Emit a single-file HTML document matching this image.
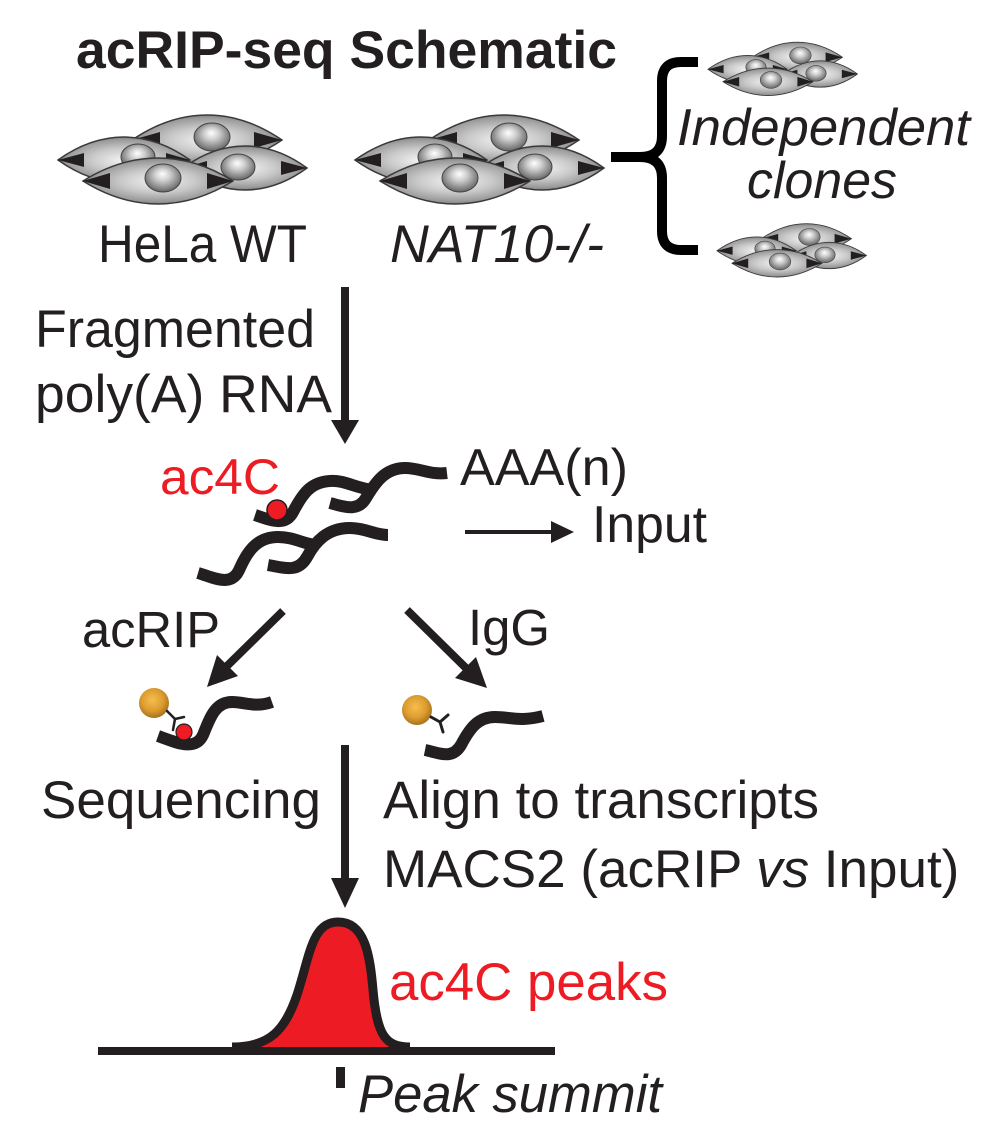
<!DOCTYPE html>
<html>
<head>
<meta charset="utf-8">
<style>
  html, body { margin: 0; padding: 0; background: #ffffff; }
  svg { display: block; }
  text { font-family: "Liberation Sans", Arial, sans-serif; fill: #231f20; }
</style>
</head>
<body>
<svg width="997" height="1129" viewBox="0 0 997 1129" xmlns="http://www.w3.org/2000/svg">
  <defs>
    <radialGradient id="cellG" cx="50%" cy="50%" r="55%">
      <stop offset="0" stop-color="#f4f4f4"/>
      <stop offset="0.45" stop-color="#c9c9c9"/>
      <stop offset="0.8" stop-color="#9a9a9a"/>
      <stop offset="1" stop-color="#6e6e6e"/>
    </radialGradient>
    <radialGradient id="nucG" cx="50%" cy="45%" r="60%" fx="48%" fy="35%">
      <stop offset="0" stop-color="#ffffff"/>
      <stop offset="0.35" stop-color="#cfcfcf"/>
      <stop offset="0.8" stop-color="#7d7d7d"/>
      <stop offset="1" stop-color="#555555"/>
    </radialGradient>
    <radialGradient id="beadG" cx="45%" cy="40%" r="60%">
      <stop offset="0" stop-color="#f8bd4e"/>
      <stop offset="0.6" stop-color="#dc9c30"/>
      <stop offset="1" stop-color="#a6731f"/>
    </radialGradient>

    <g id="cluster">
      <!-- Cell A -->
      <path d="M132 140 C181 106.7 233 106.7 282 140 C233 173.3 181 173.3 132 140 Z" fill="url(#cellG)" stroke="#3a3a3a" stroke-width="1.5"/>
      <polygon points="132,140 160,132 160,148" fill="#231f20"/>
      <polygon points="282,140 254,132 254,148" fill="#231f20"/>
      <ellipse cx="212" cy="137" rx="18" ry="14" fill="url(#nucG)" stroke="#444" stroke-width="1"/>
      <!-- Cell B -->
      <path d="M58 160 C101 129.4 147 129.4 190 160 C147 190.6 101 190.6 58 160 Z" fill="url(#cellG)" stroke="#3a3a3a" stroke-width="1.5"/>
      <polygon points="58,160 84,153 84,167" fill="#231f20"/>
      <polygon points="190,160 166,153 166,167" fill="#231f20"/>
      <ellipse cx="138" cy="157" rx="17" ry="13" fill="url(#nucG)" stroke="#444" stroke-width="1"/>
      <!-- Cell C -->
      <path d="M183 168 C223 138.7 267 138.7 307 168 C267 197.3 223 197.3 183 168 Z" fill="url(#cellG)" stroke="#3a3a3a" stroke-width="1.5"/>
      <polygon points="183,168 207,161 207,175" fill="#231f20"/>
      <polygon points="307,168 281,161 281,175" fill="#231f20"/>
      <ellipse cx="238" cy="167" rx="17" ry="13" fill="url(#nucG)" stroke="#444" stroke-width="1"/>
      <!-- Cell D -->
      <path d="M83 181 C132 150.4 184 150.4 233 181 C184 211.6 132 211.6 83 181 Z" fill="url(#cellG)" stroke="#3a3a3a" stroke-width="1.5"/>
      <polygon points="83,181 110,173 110,189" fill="#231f20"/>
      <polygon points="233,181 207,173 207,189" fill="#231f20"/>
      <ellipse cx="163" cy="178" rx="18" ry="14" fill="url(#nucG)" stroke="#444" stroke-width="1"/>
    </g>
  </defs>

  <!-- Title -->
  <text x="76" y="68" font-size="53" font-weight="bold" textLength="541" lengthAdjust="spacingAndGlyphs">acRIP-seq Schematic</text>

  <!-- Cell clusters -->
  <use href="#cluster"/>
  <use href="#cluster" transform="translate(297,0)"/>
  <use href="#cluster" transform="translate(673.2,-26.8) scale(0.6)"/>
  <use href="#cluster" transform="translate(682.2,154.7) scale(0.6)"/>

  <!-- Brace -->
  <path d="M698 62 L681 62 Q662 62 662 81 L662 136 Q662 157 640 157 L611 157 M640 157 Q662 157 662 178 L662 231 Q662 250 681 250 L698 250"
        fill="none" stroke="#000" stroke-width="10" stroke-linejoin="round"/>

  <text x="677" y="145" font-size="52" font-style="italic" textLength="293" lengthAdjust="spacingAndGlyphs">Independent</text>
  <text x="747" y="198" font-size="52" font-style="italic" textLength="150" lengthAdjust="spacingAndGlyphs">clones</text>

  <text x="98" y="262" font-size="53" textLength="209" lengthAdjust="spacingAndGlyphs">HeLa WT</text>
  <text x="390" y="262" font-size="53" font-style="italic" textLength="214" lengthAdjust="spacingAndGlyphs">NAT10-/-</text>

  <!-- Down arrow 1 -->
  <rect x="341" y="287" width="8" height="135" fill="#231f20"/>
  <polygon points="331,420 359,420 345,444" fill="#231f20"/>

  <text x="35" y="347" font-size="53" textLength="280" lengthAdjust="spacingAndGlyphs">Fragmented</text>
  <text x="35" y="412" font-size="53" textLength="297" lengthAdjust="spacingAndGlyphs">poly(A) RNA</text>

  <!-- RNA strands -->
  <g fill="none" stroke="#231f20" stroke-width="12" stroke-linecap="butt" stroke-linejoin="round">
    <path d="M255 515 C270 520 285 527 293 512 C302 495 310 482 330 481 C345 480 355 488 373 490"/>
    <path d="M330 503 C345 507 358 512 366 498 C375 483 385 468 405 468 C420 468 430 475 447 473"/>
    <path d="M198 573 C215 578 232 588 240 568 C248 550 258 537 278 537 C295 537 305 545 318 545"/>
    <path d="M268 565 C285 568 298 573 307 557 C315 542 327 528 350 528 C365 528 375 535 388 535"/>
  </g>
  <circle cx="277" cy="510" r="10" fill="#ed1c24" stroke="#231f20" stroke-width="1.5"/>
  <text x="160" y="494" font-size="50" fill="#ed1c24" style="fill:#ed1c24" textLength="120" lengthAdjust="spacingAndGlyphs">ac4C</text>

  <text x="460" y="485" font-size="52" textLength="168" lengthAdjust="spacingAndGlyphs">AAA(n)</text>
  <!-- Input arrow -->
  <rect x="465" y="530" width="88" height="4" fill="#231f20"/>
  <polygon points="551,521 574,532 551,543" fill="#231f20"/>
  <text x="592" y="542" font-size="52" textLength="115" lengthAdjust="spacingAndGlyphs">Input</text>

  <!-- acRIP / IgG arrows -->
  <text x="82" y="647" font-size="51" textLength="138" lengthAdjust="spacingAndGlyphs">acRIP</text>
  <line x1="283" y1="611" x2="226" y2="667" stroke="#231f20" stroke-width="8"/>
  <polygon points="207,687 217,655 238,676" fill="#231f20"/>

  <text x="468" y="645" font-size="51" textLength="82" lengthAdjust="spacingAndGlyphs">IgG</text>
  <line x1="407" y1="610" x2="469" y2="671" stroke="#231f20" stroke-width="8"/>
  <polygon points="487,688 455,678 476,657" fill="#231f20"/>

  <!-- acRIP bound complex -->
  <path d="M158 736 C175 742 195 752 203 735 C210 718 215 702 232 702 C245 702 255 708 272 702" fill="none" stroke="#231f20" stroke-width="12"/>
  <circle cx="154" cy="703" r="15" fill="url(#beadG)"/>
  <g stroke="#231f20" stroke-width="2.5" fill="none" stroke-linecap="round">
    <line x1="167" y1="711" x2="175" y2="719"/>
    <line x1="175" y1="719" x2="184" y2="717"/>
    <line x1="175" y1="719" x2="173" y2="730"/>
  </g>
  <circle cx="184" cy="732" r="8" fill="#ed1c24" stroke="#231f20" stroke-width="1.2"/>

  <!-- IgG complex -->
  <path d="M425 750 C440 753 452 760 461 745 C470 728 478 717 495 717 C510 717 520 722 543 716" fill="none" stroke="#231f20" stroke-width="12"/>
  <circle cx="417" cy="710" r="15" fill="url(#beadG)"/>
  <g stroke="#231f20" stroke-width="3" fill="none" stroke-linecap="round">
    <line x1="431" y1="717" x2="440" y2="722"/>
    <line x1="440" y1="722" x2="448" y2="715"/>
    <line x1="440" y1="722" x2="443" y2="732"/>
  </g>

  <!-- Down arrow 2 -->
  <rect x="341" y="745" width="8" height="135" fill="#231f20"/>
  <polygon points="331,878 359,878 345,908" fill="#231f20"/>

  <text x="41" y="818" font-size="53" textLength="280" lengthAdjust="spacingAndGlyphs">Sequencing</text>
  <text x="383" y="818" font-size="53">Align to transcripts</text>
  <text x="383" y="887" font-size="53">MACS2 (acRIP <tspan font-style="italic">vs</tspan> Input)</text>

  <!-- Peak -->
  <rect x="98" y="1047" width="457" height="8" fill="#231f20"/>
  <path d="M234 1047 C270 1047 285 1030 297 995 C310 955 312 922 338 922 C365 922 370 955 373 990 C377 1035 385 1047 408 1047 Z"
        fill="#ed1c24" stroke="none"/>
  <path d="M232 1047 C270 1047 285 1030 297 995 C310 955 312 922 338 922 C365 922 370 955 373 990 C377 1035 385 1047 410 1047"
        fill="none" stroke="#231f20" stroke-width="9"/>
  <text x="389" y="1000" font-size="53" fill="#ed1c24" style="fill:#ed1c24" textLength="279" lengthAdjust="spacingAndGlyphs">ac4C peaks</text>

  <rect x="336" y="1067" width="9" height="21" fill="#231f20"/>
  <text x="358" y="1112" font-size="53" font-style="italic" textLength="304" lengthAdjust="spacingAndGlyphs">Peak summit</text>
</svg>
</body>
</html>
